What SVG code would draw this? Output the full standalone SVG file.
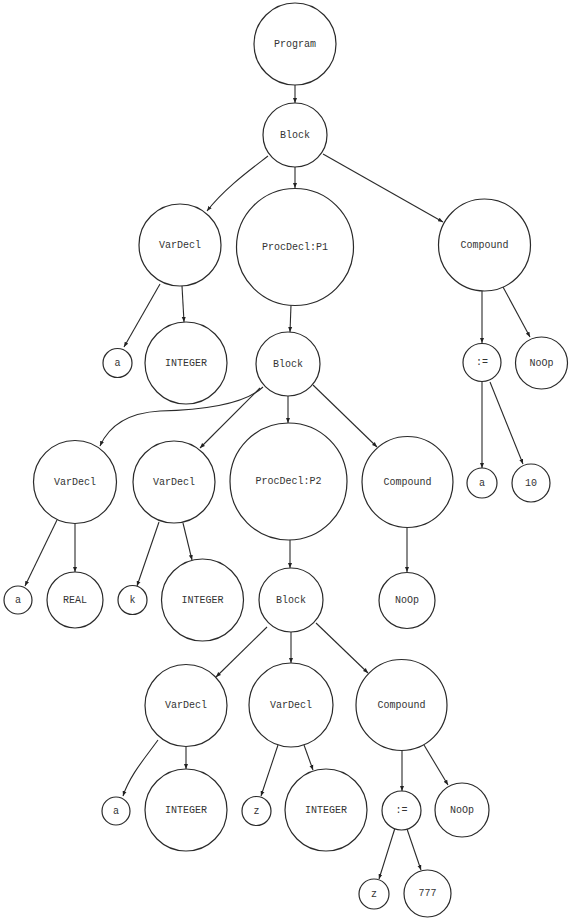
<svg xmlns="http://www.w3.org/2000/svg" width="575" height="920" viewBox="0 0 575 920">
<style>
.n circle{fill:#fff;stroke:#2a2a2a;stroke-width:1.2}
.n text{font-family:"Liberation Mono","DejaVu Sans Mono",monospace;font-size:10px;fill:#333;text-anchor:middle;dominant-baseline:central}
#edges path{fill:none;stroke:#2a2a2a;stroke-width:1.1;marker-end:url(#ah)}
</style>
<defs>
<marker id="ah" markerWidth="6" markerHeight="5" refX="5" refY="2.5" orient="auto" markerUnits="userSpaceOnUse">
<path d="M0,0.5 L5,2.5 L0,4.5 Z" fill="#222"/>
</marker>
</defs>
<rect width="575" height="920" fill="#fff"/>
<g id="edges">
<path d="M295,85 L295,103"/>
<path d="M268,156 C250,170 225,188 207,211"/>
<path d="M295,167 L295,188"/>
<path d="M323,154 L443,222"/>
<path d="M160,284 L124,347"/>
<path d="M182,286 L184,322"/>
<path d="M291,305 L290,332"/>
<path d="M482,290 L482,343"/>
<path d="M503,287 L530,337"/>
<path d="M482,382 L482,468"/>
<path d="M490,382 L523,464"/>
<path d="M263,387 C245,404 205,410 160,411 C125,413 108,428 100,446"/>
<path d="M260,388 L200,448"/>
<path d="M288,396 L288,423"/>
<path d="M313,385 L377,447"/>
<path d="M57,520 L25,586"/>
<path d="M75,523 L75,572"/>
<path d="M159,522 L137,586"/>
<path d="M183,523 L192,560"/>
<path d="M290,540 L290,568"/>
<path d="M407,527 L407,572"/>
<path d="M267,627 L216,677"/>
<path d="M291,632 L291,663"/>
<path d="M316,623 L368,673"/>
<path d="M158,740 C145,758 130,775 123,796"/>
<path d="M186,746 L186,769"/>
<path d="M278,745 L261,796"/>
<path d="M304,745 L313,770"/>
<path d="M402,750 L402,791"/>
<path d="M424,745 L448,785"/>
<path d="M395,828 L379,879"/>
<path d="M407,829 L421,870"/>
</g>
<g id="program" class="n"><circle cx="295" cy="44" r="41"/><text x="295" y="44">Program</text></g>
<g id="block1" class="n"><circle cx="295" cy="135" r="32"/><text x="295" y="135">Block</text></g>
<g id="vardecl1" class="n"><circle cx="180" cy="245" r="41"/><text x="180" y="245">VarDecl</text></g>
<g id="procdecl_p1" class="n"><circle cx="295" cy="247" r="58.5"/><text x="295" y="247">ProcDecl:P1</text></g>
<g id="compound1" class="n"><circle cx="484.5" cy="245" r="46"/><text x="484.5" y="245">Compound</text></g>
<g id="a1" class="n"><circle cx="117.5" cy="363" r="14.5"/><text x="117.5" y="363">a</text></g>
<g id="integer1" class="n"><circle cx="186" cy="363" r="41"/><text x="186" y="363">INTEGER</text></g>
<g id="block2" class="n"><circle cx="288" cy="364" r="32"/><text x="288" y="364">Block</text></g>
<g id="assign1" class="n"><circle cx="482" cy="362.5" r="19"/><text x="482" y="362.5">:=</text></g>
<g id="noop1" class="n"><circle cx="541.5" cy="363" r="26"/><text x="541.5" y="363">NoOp</text></g>
<g id="a_assign1" class="n"><circle cx="482" cy="483" r="15"/><text x="482" y="483">a</text></g>
<g id="num10" class="n"><circle cx="531" cy="483" r="19"/><text x="531" y="483">10</text></g>
<g id="vardecl2" class="n"><circle cx="75" cy="482" r="41.5"/><text x="75" y="482">VarDecl</text></g>
<g id="vardecl3" class="n"><circle cx="174" cy="482" r="41"/><text x="174" y="482">VarDecl</text></g>
<g id="procdecl_p2" class="n"><circle cx="288.5" cy="481.5" r="58.5"/><text x="288.5" y="481.5">ProcDecl:P2</text></g>
<g id="compound2" class="n"><circle cx="407.5" cy="482" r="45.5"/><text x="407.5" y="482">Compound</text></g>
<g id="a2" class="n"><circle cx="18" cy="600" r="14"/><text x="18" y="600">a</text></g>
<g id="real" class="n"><circle cx="75" cy="600" r="28"/><text x="75" y="600">REAL</text></g>
<g id="k" class="n"><circle cx="132.5" cy="600" r="14.5"/><text x="132.5" y="600">k</text></g>
<g id="integer2" class="n"><circle cx="202.5" cy="600" r="41"/><text x="202.5" y="600">INTEGER</text></g>
<g id="block3" class="n"><circle cx="291" cy="600" r="32"/><text x="291" y="600">Block</text></g>
<g id="noop2" class="n"><circle cx="407" cy="600.5" r="28"/><text x="407" y="600.5">NoOp</text></g>
<g id="vardecl4" class="n"><circle cx="186" cy="705.5" r="41"/><text x="186" y="705.5">VarDecl</text></g>
<g id="vardecl5" class="n"><circle cx="291" cy="705" r="42"/><text x="291" y="705">VarDecl</text></g>
<g id="compound3" class="n"><circle cx="401.5" cy="705" r="45.5"/><text x="401.5" y="705">Compound</text></g>
<g id="a3" class="n"><circle cx="116" cy="811" r="14"/><text x="116" y="811">a</text></g>
<g id="integer3" class="n"><circle cx="186" cy="810" r="41"/><text x="186" y="810">INTEGER</text></g>
<g id="z1" class="n"><circle cx="256.5" cy="811" r="14.5"/><text x="256.5" y="811">z</text></g>
<g id="integer4" class="n"><circle cx="326" cy="810" r="41"/><text x="326" y="810">INTEGER</text></g>
<g id="assign2" class="n"><circle cx="401.5" cy="810.5" r="19.5"/><text x="401.5" y="810.5">:=</text></g>
<g id="noop3" class="n"><circle cx="462" cy="810" r="27"/><text x="462" y="810">NoOp</text></g>
<g id="z2" class="n"><circle cx="374" cy="894" r="15"/><text x="374" y="894">z</text></g>
<g id="num777" class="n"><circle cx="427.5" cy="893.5" r="23.5"/><text x="427.5" y="893.5">777</text></g>
</svg>
